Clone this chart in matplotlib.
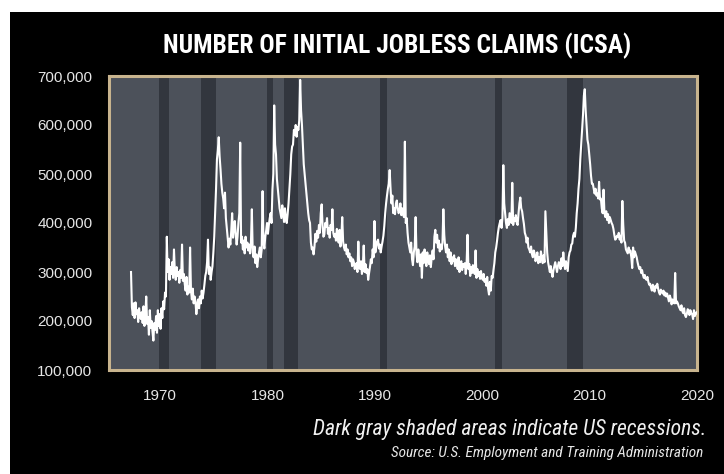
import matplotlib
matplotlib.use("Agg")
import matplotlib.pyplot as plt
import numpy as np
from matplotlib.patches import Rectangle
from matplotlib.ticker import FuncFormatter

# Weekly ICSA, condensed to one value per month (thousands)
first_year = 1967
claims_k = [
    300, 228, 212, 236, 206, 238, 214, 222, 198, 226, 210, 204,  # 1967
    218, 196, 230, 190, 212, 250, 194, 208, 172, 222, 186, 200,  # 1968
    178, 160, 196, 182, 210, 176, 222, 190, 214, 184, 226, 206,  # 1969
    240, 224, 258, 250, 372, 300, 326, 284, 310, 296, 320, 288,  # 1970
    346, 300, 284, 310, 292, 300, 278, 304, 288, 356, 282, 296,  # 1971
    276, 262, 290, 254, 270, 258, 350, 262, 244, 266, 236, 250,  # 1972
    240, 214, 232, 244, 226, 250, 236, 262, 246, 258, 274, 292,  # 1973
    300, 320, 366, 296, 310, 284, 300, 312, 340, 372, 420, 470,  # 1974
    530, 548, 575, 536, 510, 480, 462, 450, 430, 462, 410, 390,  # 1975
    372, 350, 368, 356, 384, 420, 370, 392, 404, 376, 356, 372,  # 1976
    400, 420, 564, 360, 372, 346, 364, 338, 372, 350, 360, 344,  # 1977
    356, 338, 360, 428, 340, 330, 352, 318, 336, 310, 326, 340,  # 1978
    350, 330, 346, 465, 360, 348, 372, 384, 400, 378, 396, 410,  # 1979
    420, 400, 468, 500, 640, 560, 540, 490, 470, 450, 430, 420,  # 1980
    410, 436, 420, 402, 430, 410, 400, 418, 440, 470, 500, 540,  # 1981
    556, 560, 590, 580, 600, 576, 596, 590, 610, 692, 630, 600,  # 1982
    560, 520, 500, 480, 460, 440, 420, 406, 400, 360, 346, 350,  # 1983
    336, 352, 378, 362, 384, 370, 396, 380, 420, 438, 396, 372,  # 1984
    376, 400, 392, 410, 378, 390, 370, 396, 386, 428, 380, 372,  # 1985
    378, 364, 388, 372, 360, 386, 352, 370, 412, 362, 350, 344,  # 1986
    356, 336, 346, 330, 338, 322, 330, 312, 326, 320, 306, 316,  # 1987
    318, 300, 362, 310, 306, 322, 296, 312, 354, 300, 316, 298,  # 1988
    306, 284, 298, 310, 326, 318, 346, 330, 404, 340, 352, 362,  # 1989
    366, 348, 356, 340, 352, 362, 374, 394, 420, 440, 456, 470,  # 1990
    480, 508, 470, 440, 456, 420, 430, 418, 440, 446, 430, 420,  # 1991
    424, 440, 416, 430, 418, 412, 566, 400, 410, 380, 360, 350,  # 1992
    340, 360, 326, 314, 340, 352, 412, 336, 320, 346, 330, 312,  # 1993
    336, 288, 340, 318, 346, 330, 312, 340, 326, 316, 334, 310,  # 1994
    330, 344, 326, 372, 386, 360, 376, 350, 364, 342, 356, 346,  # 1995
    360, 428, 376, 352, 340, 356, 330, 346, 322, 340, 316, 330,  # 1996
    322, 334, 312, 326, 318, 306, 330, 300, 314, 322, 304, 316,  # 1997
    310, 318, 296, 320, 376, 306, 316, 292, 310, 298, 314, 302,  # 1998
    296, 344, 288, 306, 292, 300, 286, 302, 290, 284, 296, 280,  # 1999
    286, 272, 290, 266, 254, 280, 262, 292, 288, 304, 318, 340,  # 2000
    350, 364, 380, 392, 400, 406, 390, 410, 518, 440, 420, 400,  # 2001
    390, 408, 396, 420, 410, 400, 482, 396, 410, 404, 416, 400,  # 2002
    396, 420, 440, 452, 430, 424, 410, 398, 380, 374, 360, 370,  # 2003
    350, 346, 340, 352, 336, 330, 344, 338, 322, 330, 340, 318,  # 2004
    330, 320, 342, 330, 318, 334, 320, 424, 380, 340, 320, 310,  # 2005
    300, 312, 298, 290, 304, 312, 320, 310, 300, 312, 320, 318,  # 2006
    306, 328, 312, 340, 318, 306, 322, 312, 302, 330, 340, 344,  # 2007
    356, 358, 374, 380, 372, 390, 420, 440, 470, 490, 530, 560,  # 2008
    590, 620, 660, 673, 630, 600, 570, 560, 540, 520, 496, 480,  # 2009
    480, 470, 460, 470, 456, 460, 450, 484, 448, 450, 430, 420,  # 2010
    468, 420, 412, 424, 406, 418, 400, 412, 406, 400, 396, 388,  # 2011
    376, 366, 368, 374, 372, 380, 366, 374, 360, 445, 396, 364,  # 2012
    360, 346, 342, 338, 350, 340, 344, 330, 308, 350, 330, 342,  # 2013
    336, 330, 320, 312, 306, 310, 298, 304, 294, 288, 294, 286,  # 2014
    284, 290, 280, 274, 276, 268, 262, 274, 264, 260, 272, 268,  # 2015
    276, 266, 258, 254, 264, 260, 256, 262, 252, 258, 250, 256,  # 2016
    248, 240, 252, 246, 234, 244, 240, 236, 298, 236, 240, 236,  # 2017
    230, 226, 222, 232, 220, 216, 226, 212, 208, 214, 224, 222,  # 2018
    212, 222, 216, 214, 204, 222, 210, 216, 218, 214, 224, 220,  # 2019
]

# NBER recessions (start, end) in decimal years
recession_starts = [1969.92, 1973.83, 1980.0, 1981.5, 1990.5, 2001.17, 2007.92]
recession_ends = [1970.83, 1975.17, 1980.5, 1982.83, 1991.17, 2001.83, 2009.42]

year_ticks = [1970, 1980, 1990, 2000, 2010, 2020]
claim_ticks = [100000, 200000, 300000, 400000, 500000, 600000, 700000]

title = "NUMBER OF INITIAL JOBLESS CLAIMS (ICSA)"
note = "Dark gray shaded areas indicate US recessions."
source = "Source: U.S. Employment and Training Administration"

cond = ["Roboto Condensed", "DejaVu Sans"]

dates = first_year + 0.3 + np.arange(len(claims_k)) / 12.0
claims = np.array(claims_k) * 1000

fig = plt.figure(figsize=(7.24, 4.74), dpi=100, facecolor="white")
fig.patches.append(Rectangle((10 / 724, 0), 1, 1 - 12 / 474, transform=fig.transFigure,
                             facecolor="black", edgecolor="none", zorder=-10))

ax = fig.add_axes([109 / 724, 1 - 370 / 474, 588 / 724, 294 / 474])
ax.set_facecolor("#4c515a")

for start, end in zip(recession_starts, recession_ends):
    ax.axvspan(start, end, color="#32363e", lw=0, zorder=1)

ax.plot(dates, claims, color="white", lw=1.5, zorder=3)

ax.set_xlim(1965.25, 2020)
ax.set_ylim(100000, 700000)
ax.set_xticks(year_ticks)
ax.set_yticks(claim_ticks)
ax.yaxis.set_major_formatter(FuncFormatter(lambda v, _: f"{int(v):,}"))
ax.tick_params(length=0, colors="#e6e6e6", labelsize=11)
ax.tick_params(axis="y", pad=12)
ax.tick_params(axis="x", pad=14)
for lab in ax.get_xticklabels() + ax.get_yticklabels():
    lab.set_fontfamily("Liberation Sans")
for spine in ax.spines.values():
    spine.set_color("#c8b48e")
    spine.set_linewidth(2.2)

fig.text(397 / 724, 1 - 46 / 474, title, ha="center", va="center", color="white",
         fontsize=18.4, fontweight="bold", family=cond)
fig.text(706 / 724, 1 - 430 / 474, note, ha="right", va="center", color="#f0f0f0",
         fontsize=15.6, style="italic", family=cond)
fig.text(703 / 724, 1 - 453 / 474, source, ha="right", va="center", color="#e6e6e6",
         fontsize=11, style="italic", family=cond)

fig.savefig("out.png", dpi=100, facecolor=fig.get_facecolor())
